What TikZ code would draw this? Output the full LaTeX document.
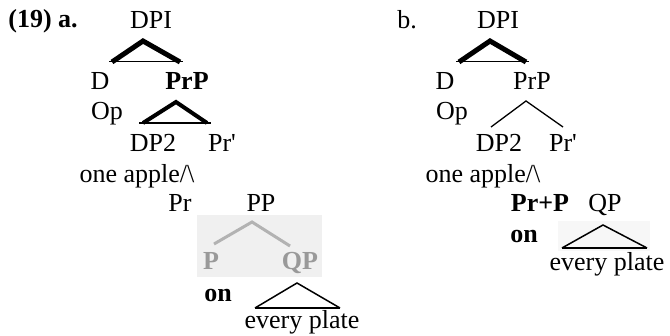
\documentclass[tikz,border=0pt]{standalone}
\usepackage{fontspec}
\setmainfont{Liberation Serif}
\begin{document}
\begin{tikzpicture}[x=1pt, y=-1pt, font=\fontsize{26}{30}\selectfont,
  lbl/.style={anchor=base, inner sep=0pt},
  lblb/.style={lbl, font=\fontsize{26}{30}\selectfont\bfseries},
  dach/.style={line width=#1, line join=miter},
  basis/.style={line width=#1, line cap=butt}]
\useasboundingbox (0,0) rectangle (670,336);
% Hintergrund der eingescannten Teile
\fill[gray!12] (197,215) rectangle (322,277);
\fill[gray!6]  (558,221) rectangle (650,251);
% ---------- (19) a. ----------
\node[lblb] (nra)  at (43, 28)  {(19) a.};
\node[lbl]  (adpi) at (151, 29) {DPI};
\coordinate (aA1) at (143, 41);
\coordinate (aL1) at (112, 62);
\coordinate (aR1) at (180, 62);
\draw[dach=5] (aL1) -- (aA1) -- (aR1);
\draw[basis=1] ([xshift=-3pt]aL1) -- ([xshift=3pt]aR1);
\node[lbl]  (ad)   at (100, 90) {D};
\node[lblb] (aprp) at (187, 90) {PrP};
\node[lbl]  (aop)  at (107, 120) {Op};
\coordinate (aA2) at (176, 102);
\coordinate (aL2) at (143, 123);
\coordinate (aR2) at (207, 123);
\draw[dach=4] (aL2) -- (aA2) -- (aR2);
\draw[basis=1.2] ([xshift=-4pt]aL2) -- ([xshift=4pt]aR2);
\node[lbl]  (adp)  at (153, 152) {DP2};
\node[lbl]  (apr1) at (222, 152) {Pr\textquotesingle};
\node[lbl]  (aone) at (137, 183) {one apple/\textbackslash};
\node[lbl]  (apr)  at (180, 212) {Pr};
\node[lbl]  (app)  at (261, 212) {PP};
% unscharfer Ausschnitt
\coordinate (aA3) at (252, 222);
\coordinate (aL3) at (214, 244);
\coordinate (aR3) at (290, 246);
\draw[gray!60, line width=3] (aL3) -- (aA3) -- (aR3);
\node[lblb, text=gray!80] (ap)  at (211, 270) {P};
\node[lblb, text=gray!80] (aqp) at (300, 270) {QP};
\node[lblb] (aon)  at (218, 302) {on};
\coordinate (aA4) at (297, 283);
\coordinate (aL4) at (255, 308);
\coordinate (aR4) at (340, 308);
\draw[dach=1.5] (aL4) -- (aA4) -- (aR4);
\draw[basis=2.2] (aL4) -- (aR4);
\node[lbl]  (aev)  at (302, 329) {every plate};
% ---------- b. ----------
\node[lbl]  (nrb)  at (407, 29) {b.};
\node[lbl]  (bdpi) at (498, 29) {DPI};
\coordinate (bA1) at (490, 41);
\coordinate (bL1) at (459, 62);
\coordinate (bR1) at (526, 62);
\draw[dach=5] (bL1) -- (bA1) -- (bR1);
\draw[basis=1] ([xshift=-3pt]bL1) -- ([xshift=3pt]bR1);
\node[lbl]  (bd)   at (445, 90) {D};
\node[lbl]  (bprp) at (532, 90) {PrP};
\node[lbl]  (bop)  at (452, 120) {Op};
\coordinate (bA2) at (526, 101);
\coordinate (bL2) at (491, 127);
\coordinate (bR2) at (563, 127);
\draw[dach=1.3] (bL2) -- (bA2) -- (bR2);
\node[lbl]  (bdp)  at (499, 152) {DP2};
\node[lbl]  (bpr1) at (563, 152) {Pr\textquotesingle};
\node[lbl]  (bone) at (483, 183) {one apple/\textbackslash};
\node[lblb] (bprp2) at (540, 212) {Pr+P};
\node[lbl]  (bqp)  at (605, 212) {QP};
\node[lblb] (bon)  at (524, 243) {on};
\coordinate (bA3) at (603, 225);
\coordinate (bL3) at (562, 248);
\coordinate (bR3) at (647, 248);
\draw[dach=1.5] (bL3) -- (bA3) -- (bR3);
\draw[basis=2.5] (bL3) -- (bR3);
\node[lbl]  (bev)  at (607, 271) {every plate};
\end{tikzpicture}
\end{document}
